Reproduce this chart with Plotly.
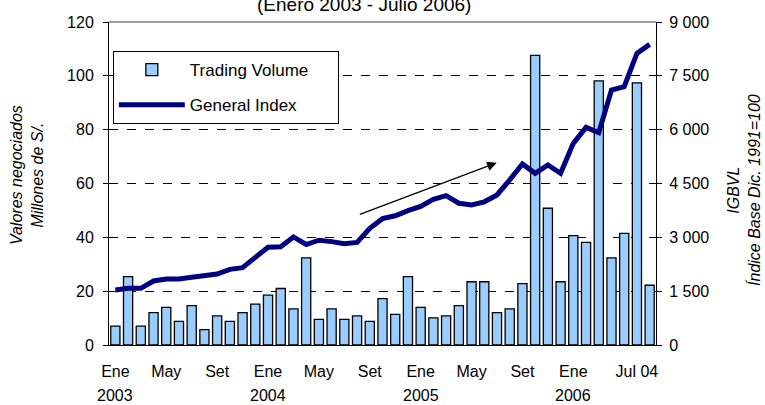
import plotly.graph_objects as go

# meses (categorías del eje x)
meses = ["Ene", "Feb", "Mar", "Abr", "May", "Jun", "Jul", "Ago", "Set", "Oct", "Nov", "Dic"]
periodos = [f"{m} {a}" for a in (2003, 2004, 2005, 2006) for m in meses][:43]

# Valores negociados (millones de S/.)
volumen = [7, 25.4, 7, 12, 14, 8.8, 14.6, 5.7, 10.8, 8.8, 12, 15.2,
           18.5, 21, 13.4, 32.4, 9.5, 13.4, 9.5, 10.8, 8.8, 17.2, 11.4, 25.4,
           14, 10.1, 10.8, 14.6, 23.5, 23.5, 12, 13.4, 22.8, 107.6, 50.8, 23.5,
           40.6, 38.1, 98.1, 32.4, 41.5, 97.4, 22.2]

# IGBVL
indice = [1532, 1580, 1580, 1783, 1839, 1839, 1886, 1922, 1978, 2108, 2154, 2442,
          2725, 2735, 3010, 2800, 2920, 2880, 2820, 2860, 3250, 3520, 3600, 3742,
          3860, 4058, 4160, 3950, 3900, 3990, 4180, 4600, 5043, 4783, 5015, 4783,
          5619, 6064, 5916, 7104, 7197, 8126, 8377]

tick_pos = ["Ene 2003", "May 2003", "Set 2003", "Ene 2004", "May 2004", "Set 2004",
            "Ene 2005", "May 2005", "Set 2005", "Ene 2006", "Jun 2006"]
tick_txt = ["Ene", "May", "Set", "Ene", "May", "Set", "Ene", "May", "Set", "Ene", "Jul 04"]
anios = ["2003", "2004", "2005", "2006"]
anio_pos = ["Ene 2003", "Ene 2004", "Ene 2005", "Ene 2006"]

FUENTE = "Arial, Liberation Sans, sans-serif"
NB = "\u00a0"

fig = go.Figure()
fig.add_bar(
    x=periodos, y=volumen, name="Trading Volume" + NB * 5,
    marker=dict(color="#99CCFF", line=dict(color="black", width=1.3)),
    legendgroup="a",
)
fig.add_scatter(
    x=periodos, y=indice, name="General Index", yaxis="y2", mode="lines",
    line=dict(color="#000080", width=5), legendgroup="b",
)

fig.update_layout(
    width=765, height=405,
    margin=dict(l=109, r=109, t=22, b=60),
    paper_bgcolor="white", plot_bgcolor="white",
    font=dict(family=FUENTE, size=16, color="black"),
    separators=", ",
    bargap=0.28,
    showlegend=True,
    legend=dict(
        x=0.007, y=0.91, xanchor="left", yanchor="top",
        bgcolor="white", bordercolor="black", borderwidth=1,
        font=dict(size=17), tracegroupgap=10, itemwidth=66,
    ),
    xaxis=dict(
        type="category", range=[-0.5, 42.5],
        tickmode="array", tickvals=tick_pos, ticktext=tick_txt,
        ticks="", ticklabelstandoff=12,
        showline=True, linecolor="black", linewidth=1,
        showgrid=False, tickangle=0,
    ),
    yaxis=dict(
        range=[0, 120], dtick=20, ticks="outside", ticklen=5, tickcolor="black",
        ticklabelstandoff=6,
        showline=True, linecolor="black", linewidth=1,
        showgrid=True, gridcolor="black", griddash="dash", gridwidth=1,
        zeroline=False,
    ),
    yaxis2=dict(
        overlaying="y", side="right", range=[0, 9000], dtick=1500,
        tickformat=",", ticks="outside", ticklen=5, tickcolor="black",
        ticklabelstandoff=4,
        showline=True, linecolor="black", linewidth=1,
        showgrid=False, zeroline=False,
    ),
)

# borde superior gris
fig.add_shape(type="line", xref="paper", yref="paper", x0=0, x1=1, y0=1, y1=1,
              line=dict(color="#808080", width=1.5), layer="above")

# título (cortado arriba)
fig.add_annotation(text="(Enero 2003 - Julio 2006)", xref="paper", yref="paper",
                   x=0.466, y=1, yshift=5, yanchor="bottom", showarrow=False,
                   font=dict(size=19))

# años bajo el eje
for a, p in zip(anios, anio_pos):
    fig.add_annotation(text=a, x=p, xref="x", yref="paper", y=0, yshift=-50,
                       yanchor="middle", showarrow=False)

# títulos de los ejes
fig.add_annotation(text="<i>Valores negociados<br>Millones de S/.</i>",
                   xref="paper", yref="paper", x=0, xshift=-82, y=0.526,
                   xanchor="center", yanchor="middle",
                   textangle=-90, showarrow=False, font=dict(size=16))
fig.add_annotation(text="<i>IGBVL<br>Índice Base Dic. 1991=100</i>",
                   xref="paper", yref="paper", x=1, xshift=88, y=0.48,
                   xanchor="center", yanchor="middle",
                   textangle=-90, showarrow=False, font=dict(size=16))

# flecha de tendencia
fig.add_annotation(x=29.98, y=67.7, ax=19.1, ay=48.3, xref="x", yref="y",
                   axref="x", ayref="y", showarrow=True, arrowhead=2,
                   arrowsize=1.6, arrowwidth=1.2, arrowcolor="black", text="")

fig.write_html("out.html", config={"displayModeBar": False},
               post_script="document.body.style.margin='0';")
